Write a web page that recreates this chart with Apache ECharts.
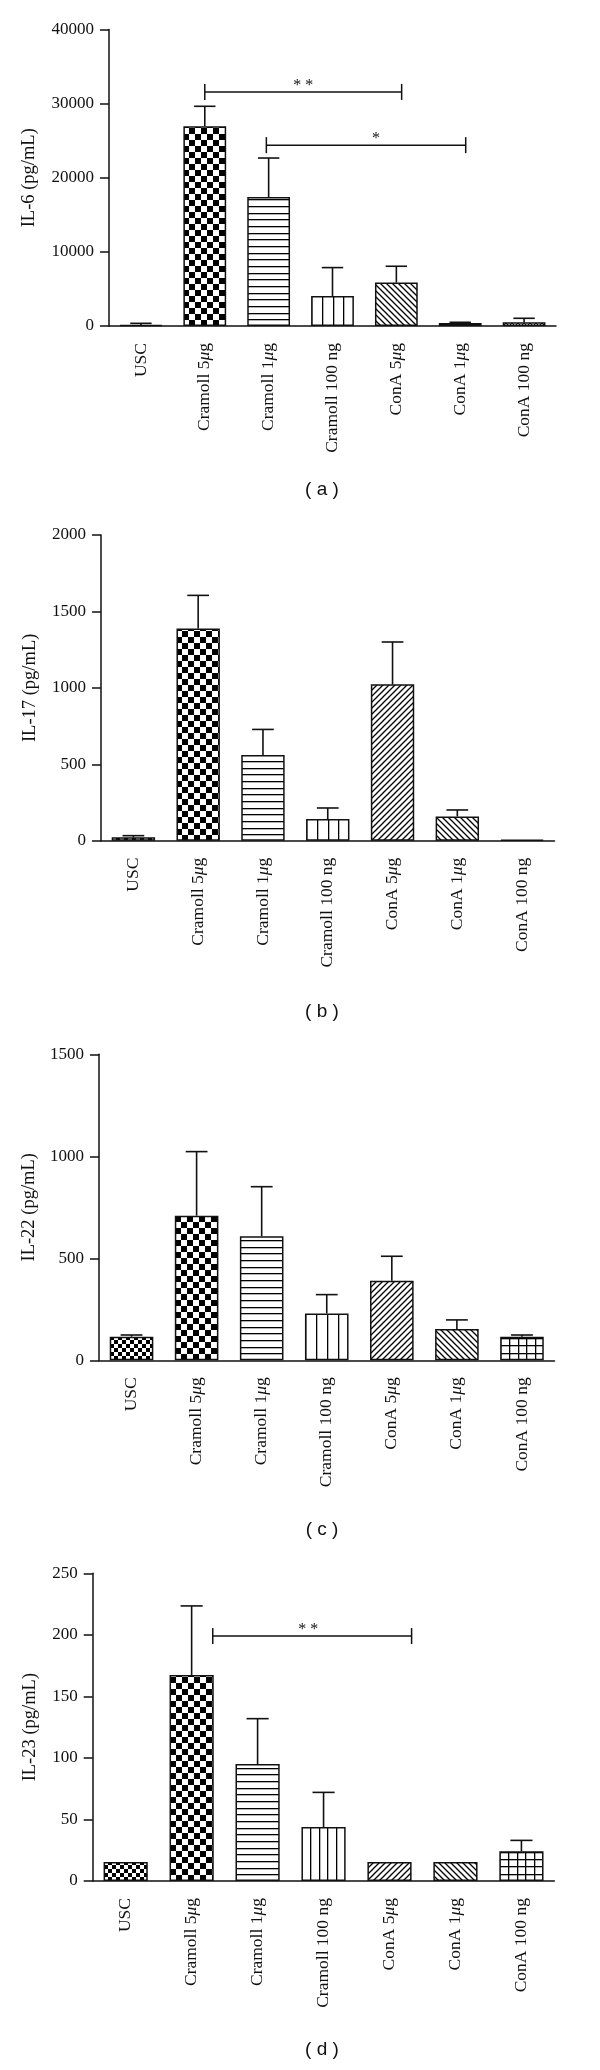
<!DOCTYPE html>
<html><head><meta charset="utf-8">
<script src="https://cdn.jsdelivr.net/npm/echarts@6/dist/echarts.min.js"></script>
<style>html,body{margin:0;padding:0;background:#fff}#c{width:600px;height:2070px}</style>
</head><body><div id="c"></div>
<script>
// ---------- data ----------
const categories = ['USC', 'Cramoll 5μg', 'Cramoll 1μg', 'Cramoll 100 ng', 'ConA 5μg', 'ConA 1μg', 'ConA 100 ng'];

const il6Mean  = [135, 26940, 17390, 4050, 5860, 400, 495];
const il6Upper = [360, 29640, 22660, 7880, 8060, 500, 1040];
const il17Mean  = [22, 1389, 560, 142, 1023, 159, 7];
const il17Upper = [33, 1605, 728, 214, 1300, 201, 7];
const il22Mean  = [116, 709, 608, 230, 390, 154, 116];
const il22Upper = [124, 1023, 851, 322, 510, 198, 124];
const il23Mean  = [15.4, 167.4, 95, 43.9, 15.4, 15.4, 24.1];
const il23Upper = [15.4, 223.5, 131.9, 72, 15.4, 15.4, 33];

const il6Ticks  = [0, 10000, 20000, 30000, 40000];
const il17Ticks = [0, 500, 1000, 1500, 2000];
const il22Ticks = [0, 500, 1000, 1500];
const il23Ticks = [0, 50, 100, 150, 200, 250];

// significance brackets: [fromCategory, toCategory, yValue]
const il6Brackets = [[1, 4, 31580], [2, 5, 24400]];
const il6BracketLabels = ['* *', '*'];
const il23Brackets = [[1, 4, 199]];
const il23BracketLabels = ['* *'];

const yNames = ['IL-6 (pg/mL)', 'IL-17 (pg/mL)', 'IL-22 (pg/mL)', 'IL-23 (pg/mL)'];
const captions = ['( a )', '( b )', '( c )', '( d )'];

// ---------- layout / style ----------
const SERIF = '"Liberation Serif","Times New Roman",serif';
const INK = '#111';
const grids = [
  {left: 109, top: 29.5, width: 447, height: 296.5},
  {left: 101, top: 535, width: 453.5, height: 305.7},
  {left: 99, top: 1054.3, width: 455.5, height: 306},
  {left: 92.7, top: 1573.3, width: 461.7, height: 307.7}
];
const nameGaps = [70, 61, 59, 53];
const captionPos = [[322, 490], [322, 1012], [322, 1530], [322, 2050]];
// bracket offsets (fraction of band) : [fromOffset, toOffset, labelFraction]
const bracketOffsets = [
  [[0, 0.083, 0.5], [-0.036, 0.086, 0.55]],
  [], [],
  [[0.32, 0.335, 0.48]]
];
const BAR_W = 0.67;
const vColumns = [4, 4, 4, 5];

// ---------- patterns ----------
function mk(w, h, draw) {
  const c = document.createElement('canvas');
  c.width = w; c.height = h;
  const g = c.getContext('2d');
  g.fillStyle = '#fff'; g.fillRect(0, 0, w, h);
  g.fillStyle = '#000'; g.strokeStyle = '#000'; g.lineWidth = 1;
  draw(g, w, h);
  return c;
}
function diag(p, fwd, lw) {
  return mk(p, p, g => {
    g.lineWidth = lw; g.beginPath();
    if (fwd) { g.moveTo(0, p); g.lineTo(p, 0); g.moveTo(-1, 1); g.lineTo(1, -1); g.moveTo(p - 1, p + 1); g.lineTo(p + 1, p - 1); }
    else { g.moveTo(0, 0); g.lineTo(p, p); g.moveTo(-1, p - 1); g.lineTo(1, p + 1); g.moveTo(p - 1, -1); g.lineTo(p + 1, 1); }
    g.stroke();
  });
}
function makePatterns(barW, cols) {
  const bw = Math.max(4, Math.round(barW));
  return {
    fineChecker: mk(8, 8, g => { g.fillRect(0, 0, 4, 4); g.fillRect(4, 4, 4, 4); }),
    checker: mk(12, 12, g => { g.fillRect(0, 0, 6, 6); g.fillRect(6, 6, 6, 6); }),
    hlines: mk(4, 20, g => { [0, 7, 13].forEach(y => g.fillRect(0, y, 4, 1.3)); }),
    vlines: mk(bw, 4, g => { for (let i = 0; i < cols; i++) g.fillRect(Math.round(i * bw / cols), 0, 1.3, 4); }),
    grid: mk(bw, 22, g => {
      for (let i = 0; i < 5; i++) g.fillRect(Math.round(i * bw / 5), 0, 1.3, 22);
      [0, 7, 15].forEach(y => g.fillRect(0, y, bw, 1.3));
    }),
    diagF: diag(6, true, 1.3),
    diagB: diag(6, false, 1.3),
    cross: mk(6, 6, g => { g.lineWidth = 1; g.beginPath(); g.moveTo(0, 6); g.lineTo(6, 0); g.moveTo(0, 0); g.lineTo(6, 6); g.stroke(); })
  };
}
const patternSets = [
  ['fineChecker', 'checker', 'hlines', 'vlines', 'diagB', 'vlines', 'cross'],
  ['fineChecker', 'checker', 'hlines', 'vlines', 'diagF', 'diagB', 'grid'],
  ['fineChecker', 'checker', 'hlines', 'vlines', 'diagF', 'diagB', 'grid'],
  ['fineChecker', 'checker', 'hlines', 'vlines', 'diagF', 'diagB', 'grid']
];

const means = [il6Mean, il17Mean, il22Mean, il23Mean];
const uppers = [il6Upper, il17Upper, il22Upper, il23Upper];
const ticks = [il6Ticks, il17Ticks, il22Ticks, il23Ticks];
const brackets = [il6Brackets, [], [], il23Brackets];
const bracketLabels = [il6BracketLabels, [], [], il23BracketLabels];

const chart = echarts.init(document.getElementById('c'), null, {renderer: 'canvas'});

function buildOption(fills) {
  const option = {
    backgroundColor: '#fff',
    animation: false,
    grid: grids.map(g => Object.assign({containLabel: false}, g)),
    xAxis: [], yAxis: [], series: [],
    graphic: captions.map((t, i) => ({
      type: 'text', x: captionPos[i][0], y: captionPos[i][1],
      style: {text: t, font: '19px "Liberation Sans", Arial, sans-serif', fill: INK, textAlign: 'center', textVerticalAlign: 'middle'}
    }))
  };
  for (let k = 0; k < 4; k++) {
    const tk = ticks[k];
    option.xAxis.push({
      type: 'category', gridIndex: k, data: categories,
      axisLine: {lineStyle: {color: INK, width: 1.5}},
      axisTick: {alignWithLabel: true, length: 7, lineStyle: {color: INK, width: 1.5}},
      axisLabel: {
        interval: 0, rotate: 90, margin: 17, color: INK, fontFamily: SERIF, fontSize: 17.5,
        formatter: v => v.replace('μ', '{i|μ}'),
        rich: {i: {fontStyle: 'italic', fontFamily: SERIF, fontSize: 17.5, color: INK}}
      }
    });
    option.yAxis.push({
      type: 'value', gridIndex: k, min: tk[0], max: tk[tk.length - 1], interval: tk[1] - tk[0],
      name: yNames[k], nameLocation: 'middle', nameGap: nameGaps[k],
      nameTextStyle: {fontFamily: SERIF, fontSize: 18.5, color: INK},
      axisLine: {show: true, lineStyle: {color: INK, width: 1.5}},
      axisTick: {show: true, length: 9, lineStyle: {color: INK, width: 1.5}},
      axisLabel: {margin: 15, color: INK, fontFamily: SERIF, fontSize: 17, formatter: v => String(v)},
      splitLine: {show: false}
    });
    option.series.push({
      type: 'bar', xAxisIndex: k, yAxisIndex: k, barWidth: (BAR_W * 100) + '%',
      data: means[k].map((v, i) => ({
        value: v,
        itemStyle: {
          color: fills ? fills[k][i] : '#fff',
          borderColor: '#111', borderWidth: 1.5
        }
      }))
    });
    option.series.push({
      type: 'custom', xAxisIndex: k, yAxisIndex: k, z: 3,
      encode: {x: 0, y: [1, 2]},
      data: means[k].map((v, i) => [i, v, uppers[k][i]]),
      renderItem: (params, api) => {
        const m = api.value(1), u = api.value(2);
        if (!(u > m)) return null;
        const pb = api.coord([api.value(0), m]);
        const pt = api.coord([api.value(0), u]);
        const half = api.size([1, 0])[0] * BAR_W * 0.25;
        const st = {stroke: '#111', lineWidth: 1.6};
        return {type: 'group', children: [
          {type: 'line', shape: {x1: pb[0], y1: pb[1], x2: pt[0], y2: pt[1]}, style: st},
          {type: 'line', shape: {x1: pt[0] - half, y1: pt[1], x2: pt[0] + half, y2: pt[1]}, style: st}
        ]};
      }
    });
    if (brackets[k].length) {
      option.series.push({
        type: 'custom', xAxisIndex: k, yAxisIndex: k, z: 4,
        encode: {x: [0, 1], y: 2},
        data: brackets[k],
        renderItem: (params, api) => {
          const off = bracketOffsets[k][params.dataIndex];
          const yv = api.value(2);
          const p1 = api.coord([api.value(0), yv]);
          const p2 = api.coord([api.value(1), yv]);
          const band = api.size([1, 0])[0];
          const x1 = p1[0] + off[0] * band, x2 = p2[0] + off[1] * band, y = p1[1];
          const st = {stroke: '#111', lineWidth: 1.5};
          return {type: 'group', children: [
            {type: 'line', shape: {x1: x1, y1: y, x2: x2, y2: y}, style: st},
            {type: 'line', shape: {x1: x1, y1: y - 8, x2: x1, y2: y + 8}, style: st},
            {type: 'line', shape: {x1: x2, y1: y - 8, x2: x2, y2: y + 8}, style: st},
            {type: 'text', x: x1 + (x2 - x1) * off[2], y: y - 6.5,
             style: {text: bracketLabels[k][params.dataIndex], font: '16px ' + SERIF, fill: INK, textAlign: 'center', textVerticalAlign: 'middle'}}
          ]};
        }
      });
    }
  }
  return option;
}

chart.setOption(buildOption(null));

// build fills whose pattern origin sits on each bar's left/bottom edge, using the chart's own scales
const fills = [];
for (let k = 0; k < 4; k++) {
  const c0 = chart.convertToPixel({xAxisIndex: k}, 0);
  const c1 = chart.convertToPixel({xAxisIndex: k}, 1);
  const band = c1 - c0;
  const barW = band * BAR_W;
  const base = chart.convertToPixel({yAxisIndex: k}, 0);
  const pats = makePatterns(barW, vColumns[k]);
  fills.push(categories.map((_, i) => {
    const cx = chart.convertToPixel({xAxisIndex: k}, i);
    return {image: pats[patternSets[k][i]], repeat: 'repeat', x: Math.round(cx - barW / 2), y: Math.round(base)};
  }));
}
chart.setOption(buildOption(fills), true);
</script>
</body></html>
